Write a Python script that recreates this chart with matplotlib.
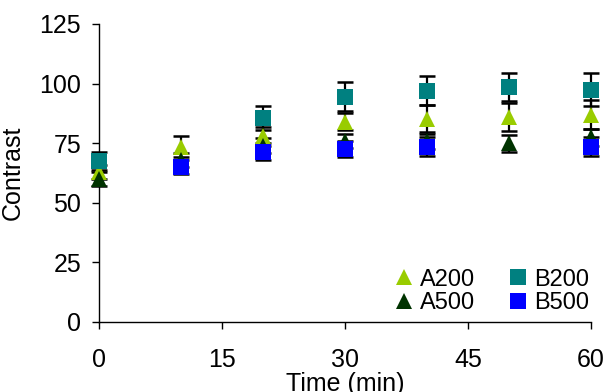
import numpy as np
import matplotlib
matplotlib.use("Agg")
import matplotlib.pyplot as plt

plt.rcParams['font.family'] = ['Liberation Sans', 'DejaVu Sans']

# Contrast measurements over time (NaN = not measured)
time_min = [0, 10, 20, 30, 40, 50, 60]
a200 = [63, 73.5, 78, 84, 85, 86, 87]
a200_err = [3, 4.5, 4, 3.5, 6, 6, 6]
a500 = [60, 68, 74, 76, 76, 75, 77.5]
a500_err = [3, 3, 3, 3, 3.5, 3.5, 3.5]
b200 = [67.5, np.nan, 85.5, 94.5, 97, 98.5, 97.5]
b200_err = [3.6, np.nan, 5, 6, 6, 6, 6.8]
b500 = [np.nan, 65, 71.5, 72.5, 73.5, np.nan, 73.5]
b500_err = [np.nan, 3, 3.5, 3.5, 4, np.nan, 4]

x_ticks = [0, 15, 30, 45, 60]
y_ticks = [0, 25, 50, 75, 100, 125]

series = [
    ("A200", a200, a200_err, "^", "#99CC00", 12),
    ("A500", a500, a500_err, "^", "#003300", 12),
    ("B200", b200, b200_err, "s", "#008080", 11),
    ("B500", b500, b500_err, "s", "#0000FF", 11),
]

fig = plt.figure(figsize=(6.04, 3.92), dpi=100)
ax = fig.add_axes([0.164, 0.1786, 0.8146, 0.7602])

handles = []
for label, vals, errs, mk, col, ms in series:
    eb = ax.errorbar(time_min, vals, yerr=errs, fmt="none", ecolor="black",
                     elinewidth=1.6, capsize=6, capthick=1.8, zorder=2)
    for part in eb.get_children():
        part.set_clip_on(False)
    h, = ax.plot(time_min, vals, linestyle="none", marker=mk, color=col,
                 markersize=ms, markeredgewidth=0, label=label,
                 zorder=3, clip_on=False)
    handles.append(h)

ax.set_xlim(0, 60)
ax.set_ylim(0, 125)
ax.set_xticks(x_ticks)
ax.set_yticks(y_ticks)

for side in ("top", "right"):
    ax.spines[side].set_visible(False)
for side in ("left", "bottom"):
    ax.spines[side].set_linewidth(1.0)
    ax.spines[side].set_color("black")

ax.tick_params(axis="x", direction="out", length=5, width=1, pad=14,
               labelsize=18)
ax.tick_params(axis="y", direction="out", length=5, width=1, pad=8,
               labelsize=18)

ax.set_xlabel("Time (min)", fontsize=18, labelpad=0)
ax.set_ylabel("Contrast", fontsize=18, labelpad=10)

ax.legend(handles=handles, ncol=2, loc="lower right",
          bbox_to_anchor=(1.025, -0.02), frameon=False, fontsize=17,
          handlelength=0.8, handletextpad=0.3, columnspacing=1.4,
          labelspacing=0.05, borderaxespad=0.2)

fig.savefig("out.png", dpi=100)
